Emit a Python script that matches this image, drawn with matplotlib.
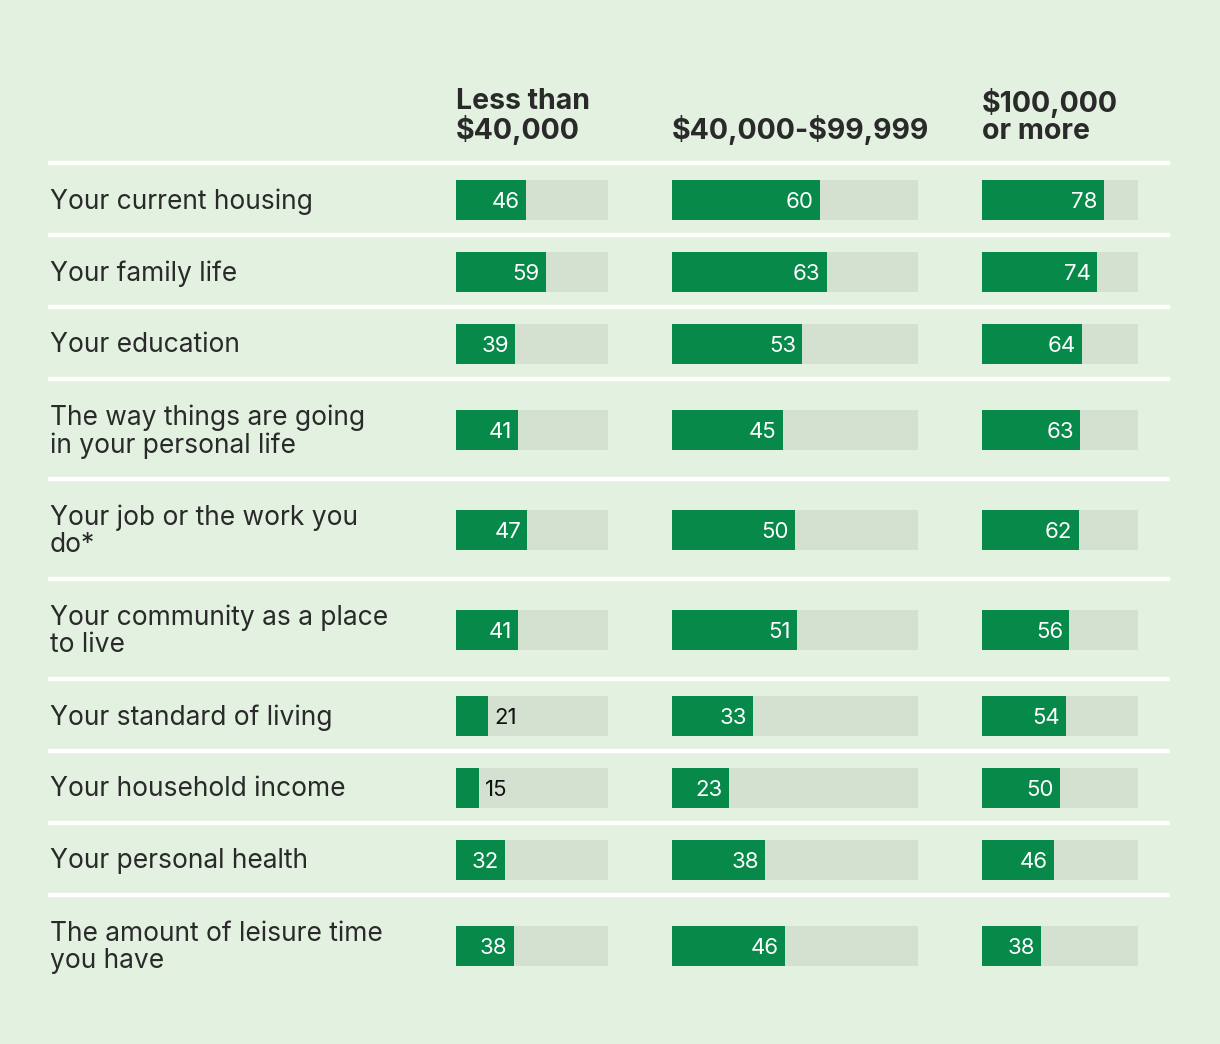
import matplotlib
matplotlib.use('Agg')
import matplotlib.pyplot as plt

plt.rcParams['font.family'] = ['Inter', 'DejaVu Sans']

# data
categories = ['Your current housing', 'Your family life', 'Your education',
              'The way things are going\nin your personal life',
              'Your job or the work you\ndo*',
              'Your community as a place\nto live',
              'Your standard of living', 'Your household income',
              'Your personal health',
              'The amount of leisure time\nyou have']
groups = ['Less than\n$40,000', '$40,000-$99,999', '$100,000\nor more']
low_income = [46, 59, 39, 41, 47, 41, 21, 15, 32, 38]
mid_income = [60, 63, 53, 45, 50, 51, 33, 23, 38, 46]
high_income = [78, 74, 64, 63, 62, 56, 54, 50, 46, 38]
series = [low_income, mid_income, high_income]

bg = '#e3f1e1'
green = '#07894a'
track = '#d4e1d1'
dark = '#2a2a2a'

W, H = 1220, 1044
fig = plt.figure(figsize=(W / 100, H / 100), dpi=100, facecolor=bg)

# row layout in pixels (two-line rows are taller)
top = 164
heights = [100 if '\n' in c else 72 for c in categories]
seps = []
centers = []
y = top
for h in heights:
    seps.append(y)
    centers.append(y + h / 2)
    y += h

# background axes for labels and separators
base = fig.add_axes([0, 0, 1, 1])
base.set_xlim(0, W)
base.set_ylim(H, 0)
base.axis('off')
for s in seps:
    base.plot([48, 1170], [s - 1, s - 1], color='white', lw=3.2, solid_capstyle='butt')
for c, label in zip(centers, categories):
    base.text(50, c + 1.5, label, fontsize=19, color=dark, va='center', ha='left',
              linespacing=1.05)

# column axes: each track spans 0-100
cols = [(456, 152), (672, 246), (982, 156)]
for (x0, w), vals, name in zip(cols, series, groups):
    ax = fig.add_axes([x0 / W, 0, w / W, 1])
    ax.set_xlim(0, 100)
    ax.set_ylim(H, 0)
    ax.axis('off')
    ax.barh(centers, [100] * len(vals), height=40, color=track, left=0)
    ax.barh(centers, vals, height=40, color=green, left=0)
    for c, v in zip(centers, vals):
        px = v / 100 * w
        if px < 40:
            ax.annotate(str(v), (v, c), xytext=(4.5, -1.2), textcoords='offset points',
                        ha='left', va='center', fontsize=16, color='#111111')
        else:
            ax.annotate(str(v), (v, c), xytext=(-4.5, -1.2), textcoords='offset points',
                        ha='right', va='center', fontsize=16, color='white')
    ax.text(0, 145, name, fontsize=20.5, fontweight='bold', color=dark,
            ha='left', va='bottom', linespacing=1.02, parse_math=False)

fig.savefig('out.png', dpi=100, facecolor=bg)
